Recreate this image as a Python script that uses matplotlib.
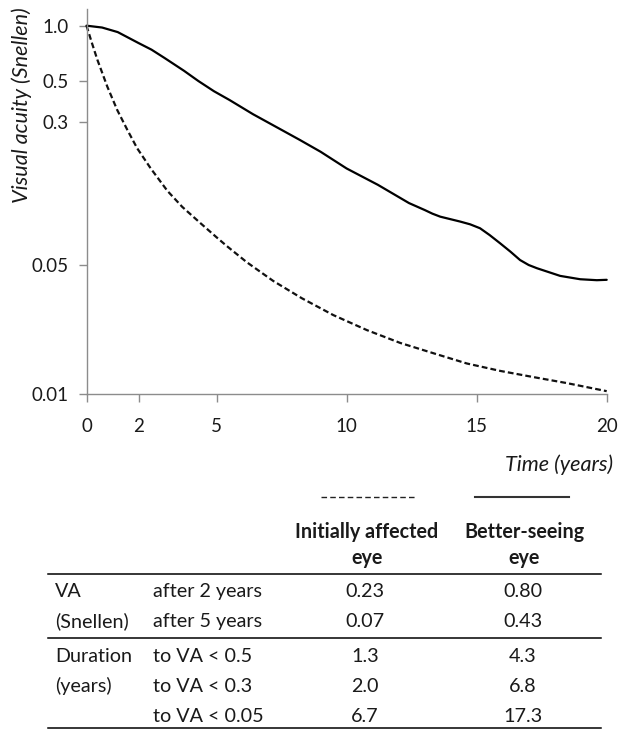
import matplotlib
matplotlib.use("Agg")
import matplotlib.pyplot as plt
from matplotlib.lines import Line2D
from matplotlib.ticker import NullLocator

plt.rcParams['font.family'] = ['Lato', 'DejaVu Sans']

# --- curve data (time in years, visual acuity in Snellen decimal) ---
t_better = [0, 0.6, 1.2, 2.0, 2.5, 3.0, 3.75, 4.3, 4.9, 5.5, 6.4, 7.5, 8.2, 9.0,
            10.0, 11.2, 12.4, 13.0, 13.3, 13.6, 14.37, 14.75, 15.13, 15.5, 15.9,
            16.3, 16.67, 17.0, 17.32, 18.21, 18.98, 19.62, 20]
va_better = [1.0, 0.977, 0.923, 0.805, 0.741, 0.668, 0.569, 0.501, 0.441, 0.395,
             0.331, 0.272, 0.24, 0.207, 0.168, 0.137, 0.109, 0.100, 0.0955, 0.092,
             0.0865, 0.0836, 0.0796, 0.0731, 0.066, 0.0594, 0.0535, 0.0503,
             0.0483, 0.0439, 0.0421, 0.0416, 0.0418]

t_affected = [0, 0.22, 0.42, 0.8, 1.18, 1.57, 1.95, 2.47, 3.11, 3.68, 4.37, 5.0,
              5.39, 6.16, 7.18, 8.28, 9.49, 10.78, 12.06, 13.34, 14.62, 15.9,
              17.18, 18.47, 20]
va_affected = [1.0, 0.796, 0.652, 0.467, 0.349, 0.272, 0.216, 0.168, 0.127, 0.104,
               0.0851, 0.0711, 0.0638, 0.0521, 0.0412, 0.0332, 0.0269, 0.0223,
               0.019, 0.0167, 0.0147, 0.0134, 0.0124, 0.0115, 0.0104]

x_ticks = [0, 2, 5, 10, 15, 20]
y_ticks = [0.01, 0.05, 0.3, 0.5, 1.0]
y_tick_labels = ['0.01', '0.05', '0.3', '0.5', '1.0']

# --- summary table ---
col_headers = ['Initially affected\neye', 'Better-seeing\neye']
row_groups = ['VA\n(Snellen)', 'Duration\n(years)']
row_labels = ['after 2 years', 'after 5 years', 'to VA < 0.5', 'to VA < 0.3', 'to VA < 0.05']
affected_vals = ['0.23', '0.07', '1.3', '2.0', '6.7']
better_vals = ['0.80', '0.43', '4.3', '6.8', '17.3']

W, H = 622, 729
fig = plt.figure(figsize=(W / 100, H / 100), dpi=100)


def fx(x):
    return x / W


def fy(y):
    return 1 - y / H


AXIS_GRAY = '#8c8c8c'
TEXT = '#1a1a1a'
FS_TICK = 13.5
FS_LABEL = 15.6
FS_TABLE = 14.2

ax = fig.add_axes([fx(86.5), fy(394.3), (606.7 - 86.5) / W, (394.3 - 9.3) / H])
ax.set_yscale('log')
ax.set_xlim(0, 20)
ax.set_ylim(0.01, 1.227)

ax.plot(t_better, va_better, color='black', lw=1.6, clip_on=False,
        solid_capstyle='round', solid_joinstyle='round')
ax.plot(t_affected, va_affected, color='#111111', lw=1.6, clip_on=False,
        linestyle=(0, (2.6, 1.4)))

ax.set_xticks(x_ticks)
ax.set_xticklabels([str(v) for v in x_ticks])
ax.set_yticks(y_ticks)
ax.set_yticklabels(y_tick_labels)
ax.yaxis.set_minor_locator(NullLocator())

for side in ('top', 'right'):
    ax.spines[side].set_visible(False)
for side in ('left', 'bottom'):
    ax.spines[side].set_color(AXIS_GRAY)
    ax.spines[side].set_linewidth(1.0)

ax.tick_params(axis='both', which='major', direction='out', length=5.8, width=1.0,
               color=AXIS_GRAY, labelsize=FS_TICK, labelcolor=TEXT)
ax.tick_params(axis='x', pad=11)
ax.tick_params(axis='y', pad=7)

fig.text(fx(22), fy(105), 'Visual acuity (Snellen)', rotation=90, ha='center',
         va='center', style='italic', fontsize=FS_LABEL, color=TEXT)
fig.text(fx(613), fy(465), 'Time (years)', ha='right', va='center',
         style='italic', fontsize=FS_LABEL, color=TEXT)

# legend keys above the table columns
fig.add_artist(Line2D([fx(320.7), fx(416.7)], [fy(497), fy(497)], transform=fig.transFigure,
                      color='#222222', lw=1.0, linestyle=(0, (4.0, 2.3))))
fig.add_artist(Line2D([fx(475), fx(569.3)], [fy(497), fy(497)], transform=fig.transFigure,
                      color='#333333', lw=1.5))

col_x = [367, 524]
for cx, head in zip(col_x, col_headers):
    first, second = head.split('\n')
    fig.text(fx(cx), fy(538.3), first, ha='center', va='baseline',
             fontweight='bold', fontsize=FS_TABLE, color=TEXT)
    fig.text(fx(cx), fy(564.3), second, ha='center', va='baseline',
             fontweight='bold', fontsize=FS_TABLE, color=TEXT)

baselines = [597.3, 627.3, 661.7, 691.7, 721.7]
for yb, lab, a, b in zip(baselines, row_labels, affected_vals, better_vals):
    fig.text(fx(152.7), fy(yb), lab, ha='left', va='baseline', fontsize=FS_TABLE, color=TEXT)
    fig.text(fx(365), fy(yb), a, ha='center', va='baseline', fontsize=FS_TABLE, color=TEXT)
    fig.text(fx(523), fy(yb), b, ha='center', va='baseline', fontsize=FS_TABLE, color=TEXT)

group_rows = [(0, 1), (2, 3)]
for grp, (r1, r2) in zip(row_groups, group_rows):
    l1, l2 = grp.split('\n')
    fig.text(fx(55), fy(baselines[r1]), l1, ha='left', va='baseline', fontsize=FS_TABLE, color=TEXT)
    fig.text(fx(55), fy(baselines[r2]), l2, ha='left', va='baseline', fontsize=FS_TABLE, color=TEXT)

for yr in (574.3, 638.3, 727.7):
    fig.add_artist(Line2D([fx(47.7), fx(601)], [fy(yr), fy(yr)], transform=fig.transFigure,
                          color='black', lw=1.1))

fig.savefig('out.png', dpi=100)
